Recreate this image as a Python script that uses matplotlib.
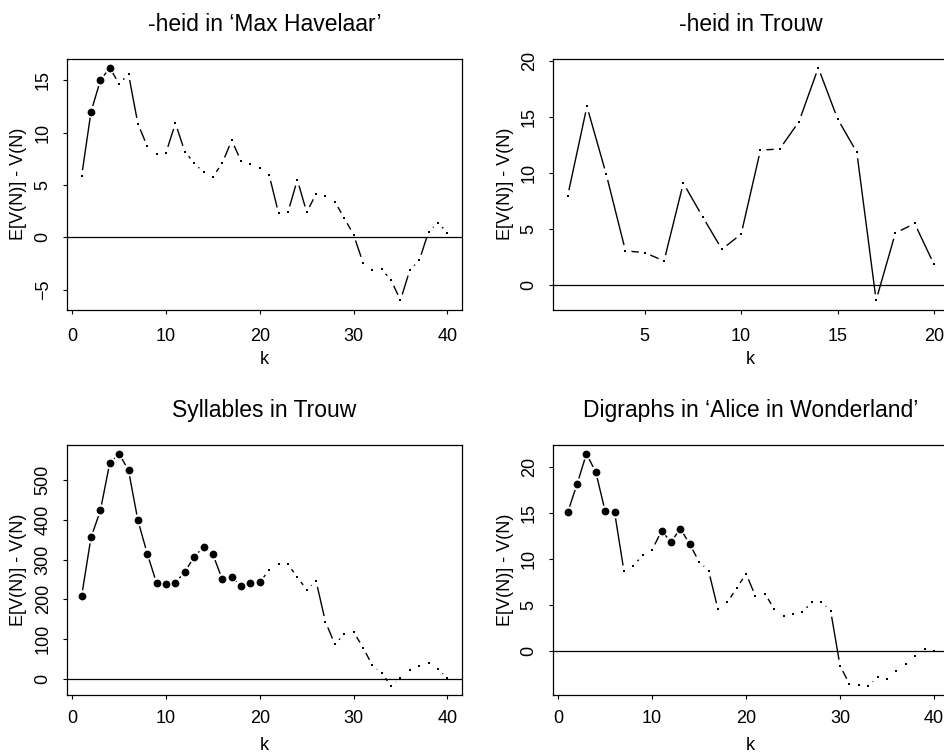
import numpy as np
import matplotlib
matplotlib.use("Agg")
import matplotlib.pyplot as plt
from matplotlib.collections import LineCollection

plt.rcParams['font.family'] = ['Liberation Sans', 'DejaVu Sans']

# k values for the two series lengths
k40 = np.arange(1, 41)
k20 = np.arange(1, 21)

# E[V(N)] - V(N) per chunk, with the chunks marked as significant
heid_havelaar = [5.85, 12.0, 15.0, 16.2, 14.65, 15.6, 10.85, 8.7, 8.0, 8.1,
                 10.9, 8.2, 7.1, 6.2, 5.8, 7.1, 9.27, 7.3, 7.0, 6.65,
                 5.95, 2.3, 2.4, 5.5, 2.4, 4.15, 3.95, 3.4, 1.85, 0.25,
                 -2.4, -3.1, -3.05, -4.1, -6.0, -3.1, -2.2, 0.55, 1.4, 0.45]
heid_havelaar_sig = [2, 3, 4]

heid_trouw = [7.9, 15.9, 9.85, 3.0, 2.85, 2.1, 9.05, 6.05, 3.15, 4.5,
              12.0, 12.1, 14.55, 19.35, 14.8, 11.8, -1.4, 4.6, 5.45, 1.8]
heid_trouw_sig = []

syllables_trouw = [208, 356, 424, 544, 567, 525, 399, 315, 240, 238,
                   242, 269, 307, 332, 313, 250, 256, 234, 241, 244,
                   273, 290, 288, 256, 224, 246, 143, 87, 112, 118,
                   78, 34, 13, -18, 2, 21, 31, 40, 24, 2]
syllables_trouw_sig = list(range(1, 21))

digraphs_alice = [15.05, 18.1, 21.4, 19.4, 15.15, 15.05, 8.66, 9.3, 10.4, 11.0,
                  13.07, 11.84, 13.3, 11.6, 9.7, 8.75, 4.58, 5.3, 6.86, 8.41,
                  5.96, 6.25, 4.58, 3.86, 4.05, 4.25, 5.34, 5.34, 4.4, -1.55,
                  -3.54, -3.68, -3.72, -2.8, -2.96, -2.17, -1.37, -0.54, 0.25, 0.07]
digraphs_alice_sig = [1, 2, 3, 4, 5, 6, 11, 12, 13, 14]

titles = ["-heid in \u2018Max Havelaar\u2019",
          "-heid in Trouw",
          "Syllables in Trouw",
          "Digraphs in \u2018Alice in Wonderland\u2019"]

W, H = 944, 755
GAP = 6  # pixels left open at each end of a segment (R type="b")

fig = plt.figure(figsize=(W / 100, H / 100), dpi=100)


def add_panel(left, top, right, bottom):
    return fig.add_axes([left / W, 1 - bottom / H, (right - left) / W, (bottom - top) / H])


def r_limits(v):
    lo, hi = np.min(v), np.max(v)
    d = 0.04 * (hi - lo)
    return lo - d, hi + d


def draw_panel(ax, k, y, sig, title, xticks, yticks, xpad):
    k = np.asarray(k, float)
    y = np.asarray(y, float)
    ax.set_xlim(r_limits(k))
    ax.set_ylim(r_limits(y))
    bb = ax.get_window_extent()
    w_px, h_px = bb.width, bb.height

    ax.axhline(0, color='black', lw=0.9)

    # connecting segments, trimmed around every point
    pts = ax.transData.transform(np.column_stack([k, y]))
    inv = ax.transData.inverted()
    segs = []
    for p, q in zip(pts[:-1], pts[1:]):
        d = q - p
        L = np.hypot(d[0], d[1])
        if L > 2 * GAP:
            u = d / L
            segs.append(inv.transform(np.array([p + u * GAP, q - u * GAP])))
    ax.add_collection(LineCollection(segs, colors='black', linewidths=1.0))

    ax.plot(k, y, ls='none', marker='s', ms=1.7, color='black', mew=0)
    m = np.isin(k, sig)
    ax.plot(k[m], y[m], ls='none', marker='o', ms=5.6, color='black', mew=0)

    ax.set_xticks(xticks)
    ax.set_yticks(yticks)
    ax.tick_params(direction='out', length=3, width=0.8, labelsize=13, color='black')
    ax.tick_params(axis='x', pad=xpad)
    ax.tick_params(axis='y', pad=8, labelrotation=90)
    for lab in ax.get_yticklabels():
        lab.set_va('center')
    for s in ax.spines.values():
        s.set_linewidth(0.9)

    ax.text(0.5, 1 + 28 / h_px, title, transform=ax.transAxes,
            ha='center', va='baseline', fontsize=16.5)
    ax.text(0.5, -50 / h_px, 'k', transform=ax.transAxes,
            ha='center', va='center', fontsize=13)
    ax.text(-48 / w_px, 0.5, 'E[V(N)] - V(N)', transform=ax.transAxes,
            rotation=90, ha='center', va='center', fontsize=13)


ax1 = add_panel(67, 58.5, 462, 309.5)
ax2 = add_panel(553, 58.5, 948.6, 309.5)
ax3 = add_panel(67, 444.5, 462, 695)
ax4 = add_panel(553, 444.5, 948.6, 695)

draw_panel(ax1, k40, heid_havelaar, heid_havelaar_sig, titles[0],
           [0, 10, 20, 30, 40], [-5, 0, 5, 10, 15], xpad=10)
draw_panel(ax2, k20, heid_trouw, heid_trouw_sig, titles[1],
           [5, 10, 15, 20], [0, 5, 10, 15, 20], xpad=10)
draw_panel(ax3, k40, syllables_trouw, syllables_trouw_sig, titles[2],
           [0, 10, 20, 30, 40], [0, 100, 200, 300, 400, 500], xpad=7.5)
draw_panel(ax4, k40, digraphs_alice, digraphs_alice_sig, titles[3],
           [0, 10, 20, 30, 40], [0, 5, 10, 15, 20], xpad=7.5)

fig.savefig('out.png', dpi=100)
